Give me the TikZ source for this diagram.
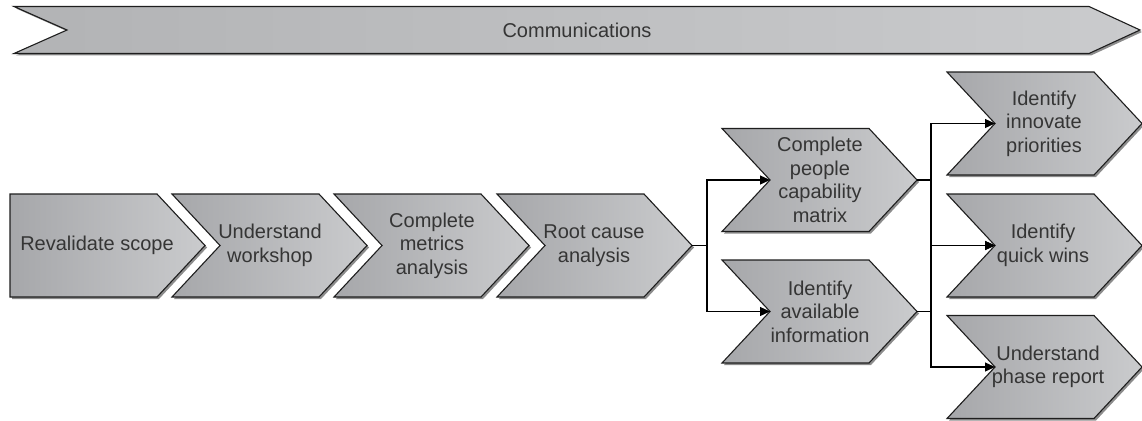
\documentclass[tikz,border=0pt]{standalone}
\usepackage{fontspec}
\setmainfont{Liberation Sans}
\usetikzlibrary{arrows.meta}
\definecolor{txt}{HTML}{353535}
\definecolor{edge}{HTML}{1E1E1E}
\definecolor{chL}{HTML}{A6A7AA}
\definecolor{chR}{HTML}{CACBCD}
\definecolor{bnL}{HTML}{B2B3B5}
\definecolor{bnR}{HTML}{CACBCD}
\definecolor{shd}{HTML}{8C8C8C}
\tikzset{
  chshadow/.style={fill=shd},
  chbody/.style={draw=edge,line width=1.1pt,line join=miter,left color=chL,right color=chR},
  bnbody/.style={draw=edge,line width=1.1pt,line join=miter,left color=bnL,right color=bnR},
  chtext/.style={text=txt,align=center,font=\fontsize{20}{23.5}\selectfont,inner sep=0pt},
  conn/.style={draw=black,line width=1.2pt},
  arr/.style={conn,-{Triangle[length=10pt,width=9pt]}}
}
\newcommand{\chev}[6]{%
  \path[chshadow,shift={(2,2)}] (#2,{#3-51.5}) -- ({#2+147},{#3-51.5}) -- ({#2+195},#3) -- ({#2+147},{#3+51.5}) -- (#2,{#3+51.5}) -- ({#2+#4},#3) -- cycle;
  \path[chbody] (#2,{#3-51.5}) -- ({#2+147},{#3-51.5}) -- ({#2+195},#3) -- ({#2+147},{#3+51.5}) -- (#2,{#3+51.5}) -- ({#2+#4},#3) -- cycle;
  \coordinate (#1-n) at ({#2+#4},#3);
  \coordinate (#1-t) at ({#2+195},#3);
  \node[chtext] (#1) at ({#2+#5},#3) {#6};
}
\begin{document}
\begin{tikzpicture}[x=1pt,y=-1pt]
\useasboundingbox (0,0) rectangle (1142,420);
% banner
\path[chshadow,shift={(2,2)}] (14,6.5) -- (1089,6.5) -- (1140,30) -- (1089,53.5) -- (14,53.5) -- (67,30) -- cycle;
\path[bnbody] (14,6.5) -- (1089,6.5) -- (1140,30) -- (1089,53.5) -- (14,53.5) -- (67,30) -- cycle;
\node[chtext] (comm) at (577,30.5) {Communications};
% row
\chev{a}{10}{245.5}{0}{87}{Revalidate scope}
\chev{b}{172}{245.5}{48}{98}{Understand\\workshop}
\chev{c}{334}{245.5}{48}{98}{Complete\\metrics\\analysis}
\chev{d}{497}{245.5}{48}{97}{Root cause\\analysis}
\chev{e}{722}{180}{48}{98}{Complete\\people\\capability\\matrix}
\chev{f}{722}{311.5}{48}{98}{Identify\\available\\information}
\chev{g}{947}{123.5}{48}{97}{Identify\\innovate\\priorities}
\chev{h}{947}{245.5}{48}{96}{Identify\\quick wins}
\chev{i}{947}{367}{48}{101}{Understand\\phase report}
% connectors
\draw[arr] (d-t) -- ++(15,0) |- (e-n);
\draw[arr] (d-t) -- ++(15,0) |- (f-n);
\draw[arr] (e-t) -- ++(14,0) |- (g-n);
\draw[arr] (e-t) -- ++(14,0) |- (h-n);
\draw[arr] (f-t) -- ++(14,0) |- (h-n);
\draw[arr] (f-t) -- ++(14,0) |- (i-n);
\end{tikzpicture}
\end{document}
